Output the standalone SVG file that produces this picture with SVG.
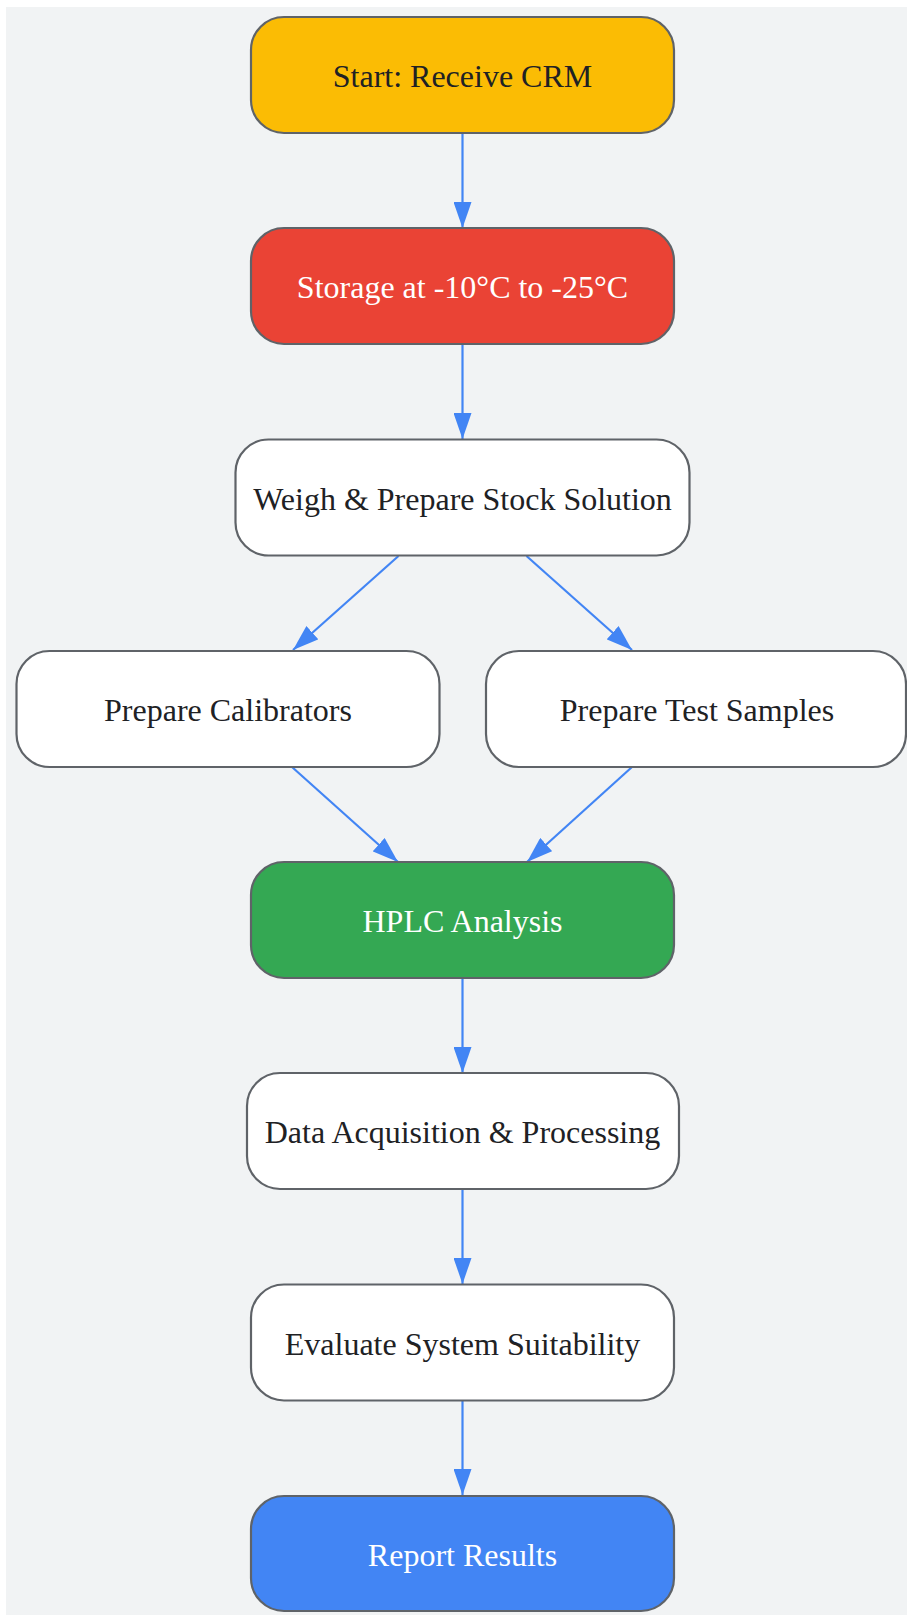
<svg xmlns="http://www.w3.org/2000/svg" width="907" height="1615" viewBox="0 0 907 1615">
<defs>
<style>
.node rect{stroke:#5f6368;stroke-width:2.2}
.node text{font-family:"Liberation Serif","Times New Roman",serif;font-size:32px;text-anchor:middle}
.dark{fill:#202124}
.light{fill:#ffffff}
.edge{stroke:#4285f4;stroke-width:2.2;fill:none;marker-end:url(#arr)}
</style>
<marker id="arr" markerUnits="userSpaceOnUse" markerWidth="26" markerHeight="18" refX="26" refY="9" orient="auto">
<path d="M0,0 L26,9 L0,18 Z" fill="#4285f4"/>
</marker>
</defs>
<rect x="6" y="7" width="901" height="1608" fill="#f1f3f4"/>
<g id="connectors">
<line class="edge" x1="462.5" y1="133" x2="462.5" y2="228"/>
<line class="edge" x1="462.5" y1="344" x2="462.5" y2="439"/>
<line class="edge" x1="398.5" y1="556" x2="293" y2="650"/>
<line class="edge" x1="526.5" y1="556" x2="632" y2="650"/>
<line class="edge" x1="292" y1="767" x2="398" y2="862"/>
<line class="edge" x1="632" y1="767" x2="527" y2="862"/>
<line class="edge" x1="462.5" y1="978" x2="462.5" y2="1073"/>
<line class="edge" x1="462.5" y1="1189" x2="462.5" y2="1284"/>
<line class="edge" x1="462.5" y1="1400" x2="462.5" y2="1495"/>
</g>
<g id="n1" class="node"><rect x="251" y="17" width="423" height="116" rx="33" fill="#fbbc04"/><text class="dark" x="462.5" y="87">Start: Receive CRM</text></g>
<g id="n2" class="node"><rect x="251" y="228" width="423" height="116" rx="33" fill="#ea4335"/><text class="light" x="462.5" y="298">Storage at -10°C to -25°C</text></g>
<g id="n3" class="node"><rect x="235.5" y="439.5" width="454" height="116" rx="33" fill="#ffffff"/><text class="dark" x="462.5" y="509.5">Weigh &amp; Prepare Stock Solution</text></g>
<g id="n4" class="node"><rect x="16.5" y="651" width="423" height="116" rx="33" fill="#ffffff"/><text class="dark" x="228" y="721">Prepare Calibrators</text></g>
<g id="n5" class="node"><rect x="486" y="651" width="420" height="116" rx="33" fill="#ffffff"/><text class="dark" x="697" y="721">Prepare Test Samples</text></g>
<g id="n6" class="node"><rect x="251" y="862" width="423" height="116" rx="33" fill="#34a853"/><text class="light" x="462.5" y="932">HPLC Analysis</text></g>
<g id="n7" class="node"><rect x="247" y="1073" width="432" height="116" rx="33" fill="#ffffff"/><text class="dark" x="462.5" y="1143">Data Acquisition &amp; Processing</text></g>
<g id="n8" class="node"><rect x="251" y="1284.5" width="423" height="116" rx="33" fill="#ffffff"/><text class="dark" x="462.5" y="1354.5">Evaluate System Suitability</text></g>
<g id="n9" class="node"><rect x="251" y="1496" width="423" height="115" rx="33" fill="#4285f4"/><text class="light" x="462.5" y="1565.5">Report Results</text></g>
</svg>
